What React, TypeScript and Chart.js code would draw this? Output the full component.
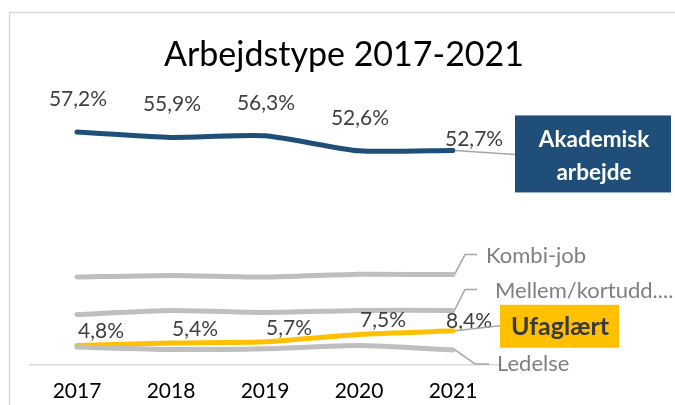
import React, { useEffect, useRef } from 'react';
import { Chart, registerables } from 'chart.js';

Chart.register(...registerables);

const years = ['2017', '2018', '2019', '2020', '2021'];
const akademisk = [57.2, 55.9, 56.3, 52.6, 52.7];
const kombiJob = [21.6, 22.0, 21.6, 22.3, 22.2];
const mellem = [12.4, 13.4, 12.9, 13.4, 13.4];
const ufaglaert = [4.8, 5.4, 5.7, 7.5, 8.4];
const ledelse = [4.4, 3.8, 4.0, 4.8, 3.7];
const seriesNames = ['Akademisk arbejde', 'Kombi-job', 'Mellem/kortudd....', 'Ufaglært', 'Ledelse'];
const titleText = 'Arbejdstype 2017-2021';

const FONT = 'Lato, "Open Sans", sans-serif';
const fmt = (v: number) => v.toFixed(1).replace('.', ',') + '%';

const overlayPlugin = {
  id: 'overlay',
  beforeDraw(chart: any) {
    const ctx = chart.ctx;
    ctx.save();
    ctx.strokeStyle = '#D9D9D9';
    ctx.lineWidth = 1.5;
    ctx.strokeRect(9.5, 12.5, 800, 600);
    ctx.fillStyle = '#000000';
    ctx.font = `34px ${FONT}`;
    ctx.textAlign = 'center';
    ctx.textBaseline = 'middle';
    ctx.fillText(titleText, 344, 55);
    ctx.restore();
  },
  afterDatasetsDraw(chart: any) {
    const ctx = chart.ctx;
    const metaOf = (i: number) => chart.getDatasetMeta(i).data;
    const kP = metaOf(0);
    const mP = metaOf(1);
    const lP = metaOf(2);
    const uP = metaOf(3);
    const aP = metaOf(4);
    ctx.save();
    ctx.font = `21px ${FONT}`;
    ctx.fillStyle = '#404040';
    ctx.textBaseline = 'middle';
    akademisk.forEach((v, i) => {
      const p = aP[i];
      if (i < 4) {
        ctx.textAlign = 'center';
        ctx.fillText(fmt(v), p.x + 1, p.y - 33);
      } else {
        ctx.textAlign = 'left';
        ctx.fillText(fmt(v), p.x - 8, p.y - 11);
      }
    });
    ufaglaert.forEach((v, i) => {
      const p = uP[i];
      ctx.textAlign = 'left';
      if (i < 4) ctx.fillText(fmt(v), p.x + 1, p.y - 14);
      else ctx.fillText(fmt(v), p.x - 7, p.y - 10);
    });

    ctx.strokeStyle = '#A6A6A6';
    ctx.lineWidth = 1.5;
    const line = (pts: number[][]) => {
      ctx.beginPath();
      ctx.moveTo(pts[0][0], pts[0][1]);
      for (let i = 1; i < pts.length; i++) ctx.lineTo(pts[i][0], pts[i][1]);
      ctx.stroke();
    };
    const a = aP[4], k = kP[4], m = mP[4], u = uP[4], l = lP[4];
    line([[a.x + 2, a.y], [a.x + 62, a.y + 4]]);
    line([[k.x + 2, k.y - 1], [k.x + 12, k.y - 20], [k.x + 24, k.y - 20]]);
    line([[m.x + 2, m.y - 1], [m.x + 12, m.y - 21], [m.x + 24, m.y - 21]]);
    line([[u.x + 2, u.y], [u.x + 47, u.y - 5]]);
    line([[l.x + 2, l.y], [l.x + 22, l.y + 14], [l.x + 36, l.y + 14]]);

    ctx.fillStyle = '#1F4E79';
    ctx.fillRect(a.x + 62, a.y - 35, 156, 77);
    ctx.fillStyle = '#FFFFFF';
    ctx.font = `bold 22.5px ${FONT}`;
    ctx.textAlign = 'center';
    const n0 = seriesNames[0].split(' ');
    ctx.fillText(n0[0], a.x + 141, a.y - 11);
    ctx.fillText(n0[1], a.x + 141, a.y + 22);

    ctx.fillStyle = '#FFC000';
    ctx.fillRect(u.x + 47, u.y - 26, 119, 43);
    ctx.fillStyle = '#3A3A3A';
    ctx.font = `bold 25px ${FONT}`;
    ctx.fillText(seriesNames[3], u.x + 107, u.y - 4);

    ctx.fillStyle = '#7F7F7F';
    ctx.font = `22px ${FONT}`;
    ctx.textAlign = 'left';
    ctx.fillText(seriesNames[1], k.x + 33, k.y - 19);
    ctx.fillText(seriesNames[2], m.x + 42, m.y - 20);
    ctx.fillText(seriesNames[4], l.x + 44, l.y + 14);
    ctx.restore();
  },
};

export default function App() {
  const ref = useRef<HTMLCanvasElement>(null);
  useEffect(() => {
    if (!ref.current) return;
    const common = {
      borderWidth: 5,
      pointRadius: 0,
      pointHoverRadius: 0,
      tension: 0.2,
      borderCapStyle: 'round' as const,
      borderJoinStyle: 'round' as const,
      fill: false,
      clip: false as any,
    };
    const chart = new Chart(ref.current, {
      type: 'line',
      data: {
        labels: years,
        datasets: [
          { label: seriesNames[1], data: kombiJob, borderColor: '#BFBFBF', ...common },
          { label: seriesNames[2], data: mellem, borderColor: '#BFBFBF', ...common },
          { label: seriesNames[4], data: ledelse, borderColor: '#BFBFBF', ...common },
          { label: seriesNames[3], data: ufaglaert, borderColor: '#FFC000', ...common },
          { label: seriesNames[0], data: akademisk, borderColor: '#1F4E79', ...common },
        ],
      },
      options: {
        responsive: false,
        animation: false,
        devicePixelRatio: 1,
        layout: { padding: { left: 30, right: 175, top: 80, bottom: 0 } },
        plugins: { legend: { display: false }, title: { display: false }, tooltip: { enabled: false } },
        scales: {
          x: {
            type: 'category',
            offset: true,
            grid: { display: false, drawTicks: false },
            border: { display: true, color: '#D9D9D9', width: 1.5 },
            ticks: { color: '#000000', font: { family: FONT, size: 21 }, padding: 14, maxRotation: 0 },
            afterFit: (scale: any) => { scale.height = 40; },
          },
          y: { display: false, min: 0, max: 70 },
        },
      },
      plugins: [overlayPlugin],
    });
    return () => chart.destroy();
  }, []);
  return (
    <div style={{ position: 'absolute', left: 0, top: 0, width: 675, height: 405, background: '#fff' }}>
      <canvas ref={ref} width={675} height={405} style={{ display: 'block', width: 675, height: 405 }} />
    </div>
  );
}
